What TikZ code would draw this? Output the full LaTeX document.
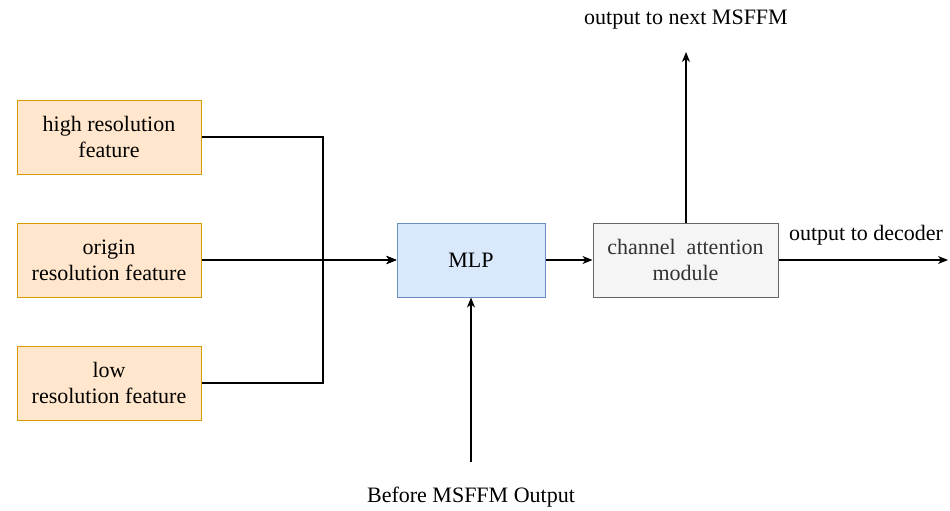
\documentclass[tikz,border=0pt]{standalone}
\usepackage{fontspec}
\setmainfont{Liberation Serif}
\newfontfamily\tnrfont{Liberation Serif}
\usetikzlibrary{arrows.meta}
\definecolor{orfill}{HTML}{FFE6CC}
\definecolor{ordraw}{HTML}{D79B00}
\definecolor{blfill}{HTML}{DAE8FC}
\definecolor{bldraw}{HTML}{6C8EBF}
\definecolor{grfill}{HTML}{F5F5F5}
\definecolor{grdraw}{HTML}{666666}
\definecolor{grtext}{HTML}{333333}
\begin{document}
\begin{tikzpicture}[x=1pt,y=-1pt,
  txt/.style={font=\tnrfont\fontsize{22}{26}\selectfont},
  boxed/.style={txt, draw, line width=1pt, minimum height=74pt, inner sep=0pt},
  featbox/.style={boxed, align=center, fill=orfill, draw=ordraw, minimum width=184pt},
  mlpbox/.style={boxed, fill=blfill, draw=bldraw, minimum width=148pt},
  cabox/.style={boxed, align=center, fill=grfill, draw=grdraw, minimum width=185pt, text=grtext},
  conn/.style={line width=1.3pt},
  arr/.style={conn, -{Stealth[length=10pt,width=8pt,inset=3pt]}},
  lbl/.style={txt, inner sep=0pt}
]
\useasboundingbox (0,0) rectangle (950,511);
\node[featbox] (high) at (109,137) {high resolution\\feature};
\node[featbox] (origin) at (109,260) {origin\\resolution feature};
\node[featbox] (low) at (109,383) {low\\resolution feature};
\node[mlpbox] (mlp) at (471,260) {MLP};
\node[cabox] (ca) at (685.5,260) {channel~~attention\\module};
\coordinate (j) at (323,260);
\coordinate (dec) at (948,260);
\coordinate (nxt) at (686,52);
\coordinate (bef) at (471,462);
\node[lbl] (nxtlbl) at (686,20) {output to next MSFFM};
\node[lbl] (declbl) at (866,235) {output to decoder};
\node[lbl] (beflbl) at (471,497) {Before MSFFM Output};
\draw[arr] (high.east) -| (j) -- (mlp.west);
\draw[arr] (low.east) -| (j) -- (mlp.west);
\draw[arr] (origin.east) -- (mlp.west);
\draw[arr] (mlp.east) -- (ca.west);
\draw[arr] (ca.east) -- (dec);
\draw[arr] (ca.north -| nxt) -- (nxt);
\draw[arr] (bef) -- (mlp.south);
\end{tikzpicture}
\end{document}
